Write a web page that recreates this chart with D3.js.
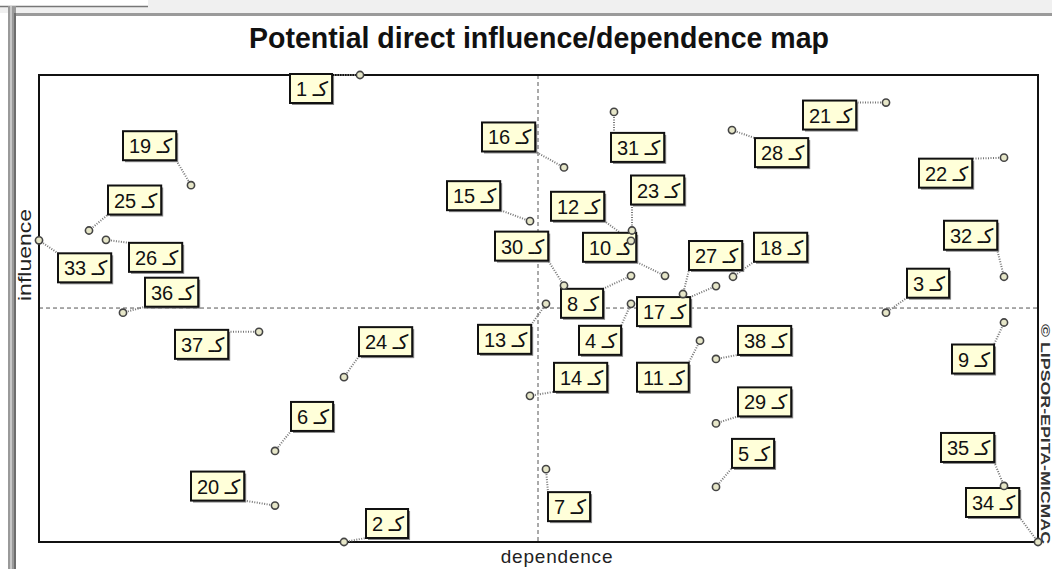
<!DOCTYPE html>
<html>
<head>
<meta charset="utf-8">
<script src="https://cdn.jsdelivr.net/npm/d3@7"></script>
<style>
  html, body { margin: 0; padding: 0; background: #fff; }
  svg { display: block; }
  .lbl text { font-family: "Liberation Sans", Arial, "DejaVu Sans", sans-serif; font-size: 20px; fill: #111; }
</style>
</head>
<body>
<svg id="chart" width="1052" height="569"></svg>
<script>
// variables of the MICMAC map (per mille of the max)
var variables  = [1, 2, 3, 4, 5, 6, 7, 8, 9, 10, 11, 12, 13, 14, 15, 16, 17, 18, 19,
                  20, 21, 22, 23, 24, 25, 26, 27, 28, 29, 30, 31, 32, 33, 34, 35, 36, 37, 38];
var dependence = [322, 306, 848, 593, 678, 237, 508, 593, 966, 627, 662, 593, 508, 492, 492, 526, 678, 695, 153,
                  237, 848, 966, 594, 306,  51,  68, 645, 694, 678, 526, 576, 966,   1, 1000, 966, 85, 221, 678];
var influence  = [1000,  0, 491, 510, 118, 195, 156, 570, 470, 570, 431, 645, 510, 313, 687, 802, 548, 568, 764,
                   78, 941, 823, 667, 353, 667, 647, 531, 882, 254, 549, 921, 568, 646,   0, 120, 491, 450, 392];
var meanDependence = 500;
var meanInfluence = 501;

var titleText = 'Potential direct influence/dependence map';
var xTitle = 'dependence';
var yTitle = 'influence';
var copyright = '\u00A9 LIPSOR-EPITA-MICMAC';
var labelSuffix = '\u0643\u0640';

// where each tag box sits relative to its point (layout only)
var labelOffset = [[-70, -1], [22, -33], [21, -44], [-52, 22], [16, -48], [16, -49], [2, 23], [-70, 13],
                   [-52, 22], [-82, -43], [-63, 22], [-80, -49], [-68, 21], [24, -33], [-83, -40], [-82, -45],
                   [-79, 11], [21, -44], [-68, -54], [-84, -34], [-83, -2], [-85, 1], [-1, -55], [15, -50],
                   [19, -45], [23, 3], [6, -53], [23, 8], [22, -36], [-69, -54], [-3, 21], [-60, -56],
                   [19, 13], [-72, -54], [-63, -53], [22, -35], [-84, -2], [22, -33]];

var W = 1052, H = 569;
var plot = {left: 39, top: 75, right: 1038, bottom: 542};

var svg = d3.select('#chart');

// window frame
svg.append('rect').attr('x', 0).attr('y', 0).attr('width', W).attr('height', 13).attr('fill', '#f0f0f0');
svg.append('rect').attr('x', 0).attr('y', 0).attr('width', 148).attr('height', 6).attr('fill', '#fff');
svg.append('line').attr('x1', 0).attr('x2', 148).attr('y1', 6.5).attr('y2', 6.5).attr('stroke', '#777').attr('stroke-width', 1.5);
svg.append('rect').attr('x', 8).attr('y', 13).attr('width', W - 8).attr('height', 3).attr('fill', '#9a9a9a');
svg.append('rect').attr('x', 8).attr('y', 6).attr('width', 8).attr('height', H - 6).attr('fill', '#9a9a9a');
svg.append('rect').attr('x', 10).attr('y', 6).attr('width', 2).attr('height', H - 6).attr('fill', '#c8c8c8');
svg.append('rect').attr('x', 14).attr('y', 13).attr('width', 2).attr('height', H - 13).attr('fill', '#6e6e6e');
svg.append('rect').attr('x', 16).attr('y', 16).attr('width', W - 16).attr('height', H - 16).attr('fill', '#fff');

svg.append('text')
  .attr('x', 539).attr('y', 48)
  .attr('text-anchor', 'middle')
  .attr('font-family', '"Liberation Sans", Arial, sans-serif')
  .attr('font-weight', 'bold')
  .attr('font-size', 29)
  .attr('textLength', 580)
  .attr('lengthAdjust', 'spacingAndGlyphs')
  .attr('fill', '#111')
  .text(titleText);

var x = d3.scaleLinear().domain(d3.extent(dependence)).range([plot.left, plot.right]);
var y = d3.scaleLinear().domain(d3.extent(influence)).range([plot.bottom, plot.top]);

// crosshair at the means
svg.append('line')
  .attr('x1', plot.left).attr('x2', plot.right)
  .attr('y1', y(meanInfluence)).attr('y2', y(meanInfluence))
  .attr('stroke', '#555').attr('stroke-dasharray', '4,3').attr('stroke-width', 1);
svg.append('line')
  .attr('y1', plot.top).attr('y2', plot.bottom)
  .attr('x1', x(meanDependence)).attr('x2', x(meanDependence))
  .attr('stroke', '#555').attr('stroke-dasharray', '4,3').attr('stroke-width', 1);

svg.append('rect')
  .attr('x', plot.left).attr('y', plot.top)
  .attr('width', plot.right - plot.left).attr('height', plot.bottom - plot.top)
  .attr('fill', 'none').attr('stroke', '#111').attr('stroke-width', 2);

// axis titles
svg.append('text')
  .attr('x', 557).attr('y', 563)
  .attr('text-anchor', 'middle')
  .attr('font-family', '"Liberation Sans", Arial, sans-serif')
  .attr('font-size', 19).attr('letter-spacing', 0.8).attr('fill', '#222')
  .text(xTitle);
svg.append('text')
  .attr('transform', 'translate(31,255) rotate(-90)')
  .attr('text-anchor', 'middle')
  .attr('font-family', '"Liberation Sans", Arial, sans-serif')
  .attr('font-size', 19).attr('fill', '#222')
  .attr('textLength', 92).attr('lengthAdjust', 'spacingAndGlyphs')
  .text(yTitle);
svg.append('text')
  .attr('transform', 'translate(1041,324) rotate(90)')
  .attr('font-family', '"Liberation Sans", Arial, sans-serif')
  .attr('font-weight', 'bold').attr('font-size', 12)
  .attr('textLength', 220).attr('lengthAdjust', 'spacingAndGlyphs')
  .attr('fill', '#333')
  .text(copyright);

var points = variables.map(function(v, i) {
  return {id: v, px: x(dependence[i]), py: y(influence[i]), off: labelOffset[i]};
});

var leaderG = svg.append('g');
var labelG = svg.append('g');
var dotG = svg.append('g');

// tag boxes first so the text can be measured
var tags = labelG.selectAll('g.lbl').data(points).enter()
  .append('g').attr('class', 'lbl')
  .attr('transform', function(d) { return 'translate(' + (d.px + d.off[0]) + ',' + (d.py + d.off[1]) + ')'; });

tags.each(function(d) {
  var g = d3.select(this);
  var t = g.append('text').attr('x', 6).attr('y', 22).text(d.id + ' ' + labelSuffix);
  d.w = t.node().getComputedTextLength() + 10;
  d.h = 29;
  g.insert('rect', 'text').attr('x', 2).attr('y', 2).attr('width', d.w).attr('height', d.h).attr('fill', '#8a8a8a');
  g.insert('rect', 'text').attr('x', 0).attr('y', 0).attr('width', d.w).attr('height', d.h)
    .attr('fill', '#ffffd9').attr('stroke', '#111').attr('stroke-width', 2);
});

// dotted leaders from the point to the nearest spot on its box
leaderG.selectAll('line').data(points).enter()
  .append('line')
  .attr('x1', function(d) { return d.px; })
  .attr('y1', function(d) { return d.py; })
  .attr('x2', function(d) { var bx = d.px + d.off[0]; return Math.max(bx, Math.min(d.px, bx + d.w)); })
  .attr('y2', function(d) { var by = d.py + d.off[1]; return Math.max(by, Math.min(d.py, by + d.h)); })
  .attr('stroke', '#777').attr('stroke-width', 2).attr('stroke-dasharray', '1,1.5');

dotG.selectAll('circle').data(points).enter()
  .append('circle')
  .attr('cx', function(d) { return d.px; })
  .attr('cy', function(d) { return d.py; })
  .attr('r', 3.6)
  .attr('fill', '#e6e6c8').attr('stroke', '#444').attr('stroke-width', 1.6);
</script>
</body>
</html>
